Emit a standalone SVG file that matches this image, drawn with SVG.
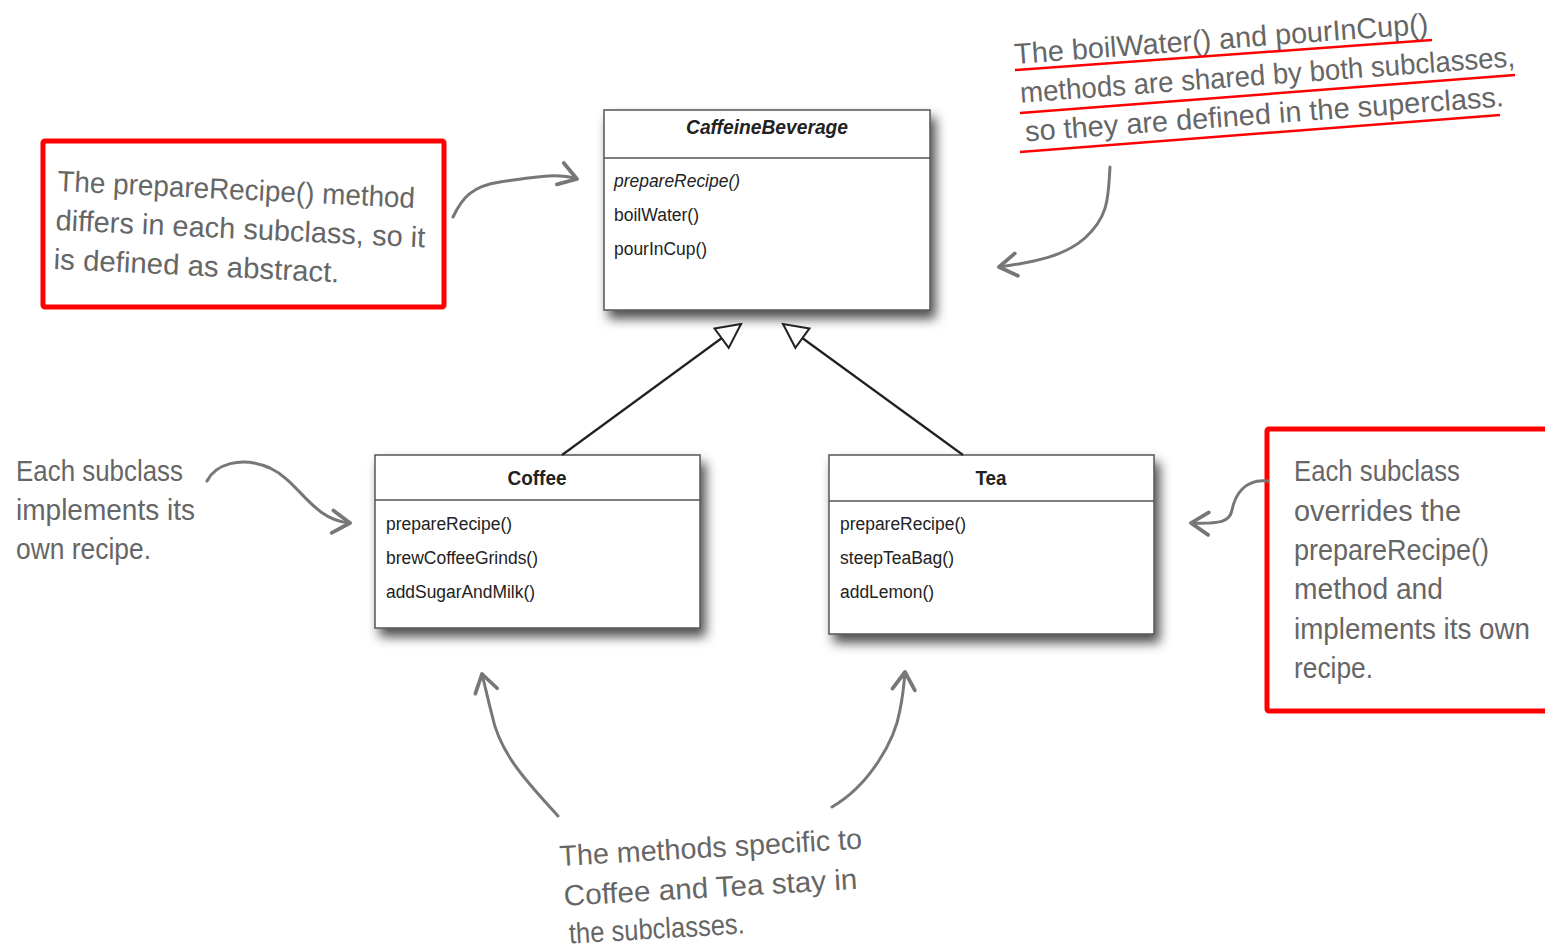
<svg xmlns="http://www.w3.org/2000/svg" width="1545" height="948" viewBox="0 0 1545 948">
  <defs>
    <filter id="shadow" x="-10%" y="-10%" width="125%" height="135%">
      <feDropShadow dx="5" dy="8" stdDeviation="6" flood-color="#000" flood-opacity="0.7"/>
    </filter>
    <marker id="hollow" markerWidth="30" markerHeight="30" refX="0" refY="0" orient="auto" markerUnits="userSpaceOnUse" viewBox="-26 -14 30 28">
      <path d="M0,0 L-24,-12 L-24,12 Z" fill="#fff" stroke="#222" stroke-width="2" stroke-linejoin="miter"/>
    </marker>
    <marker id="open" markerWidth="30" markerHeight="30" refX="0" refY="0" orient="auto" markerUnits="userSpaceOnUse" viewBox="-18 -12 22 24">
      <path d="M-14,-9 L0,0 L-14,9" fill="none" stroke="#777" stroke-width="3" stroke-linecap="round" stroke-linejoin="round"/>
    </marker>
  </defs>
  <style>
    .box { fill: #fff; stroke: #555; stroke-width: 1.5; }
    .div { stroke: #555; stroke-width: 1.5; }
    .title { font-family: "Liberation Sans", Arial, sans-serif; font-weight: bold; font-size: 20px; fill: #222; text-anchor: middle; }
    .meth { font-family: "Liberation Sans", Arial, sans-serif; font-size: 18px; fill: #222; }
    .note { font-family: "Liberation Sans", Arial, sans-serif; font-size: 29px; fill: #666; }
    .redbox { fill: #fff; stroke: #ff0000; stroke-width: 5; }
    .uline { stroke: #ff0000; stroke-width: 2.5; fill: none; }
    .inherit { stroke: #222; stroke-width: 2.2; fill: none; }
    .hand { stroke: #777; stroke-width: 3; fill: none; stroke-linecap: round; }
  </style>

  <rect width="1545" height="948" fill="#fff"/>

  <!-- abstract superclass -->
  <g id="caffeine-beverage">
    <rect class="box" x="604" y="110" width="326" height="200" filter="url(#shadow)"/>
    <line class="div" x1="604" y1="158" x2="930" y2="158"/>
    <text class="title" x="767" y="134" font-style="italic" textLength="162" lengthAdjust="spacingAndGlyphs">CaffeineBeverage</text>
    <text class="meth" x="614" y="187" font-style="italic" textLength="126" lengthAdjust="spacingAndGlyphs">prepareRecipe()</text>
    <text class="meth" x="614" y="221" textLength="85" lengthAdjust="spacingAndGlyphs">boilWater()</text>
    <text class="meth" x="614" y="255" textLength="93" lengthAdjust="spacingAndGlyphs">pourInCup()</text>
  </g>

  <!-- subclass Coffee -->
  <g id="coffee">
    <rect class="box" x="375" y="455" width="325" height="173" filter="url(#shadow)"/>
    <line class="div" x1="375" y1="500" x2="700" y2="500"/>
    <text class="title" x="537" y="485" textLength="59" lengthAdjust="spacingAndGlyphs">Coffee</text>
    <text class="meth" x="386" y="530" textLength="126" lengthAdjust="spacingAndGlyphs">prepareRecipe()</text>
    <text class="meth" x="386" y="564" textLength="152" lengthAdjust="spacingAndGlyphs">brewCoffeeGrinds()</text>
    <text class="meth" x="386" y="598" textLength="149" lengthAdjust="spacingAndGlyphs">addSugarAndMilk()</text>
  </g>

  <!-- subclass Tea -->
  <g id="tea">
    <rect class="box" x="829" y="455" width="325" height="179" filter="url(#shadow)"/>
    <line class="div" x1="829" y1="501" x2="1154" y2="501"/>
    <text class="title" x="991" y="485" textLength="31" lengthAdjust="spacingAndGlyphs">Tea</text>
    <text class="meth" x="840" y="530" textLength="126" lengthAdjust="spacingAndGlyphs">prepareRecipe()</text>
    <text class="meth" x="840" y="564" textLength="114" lengthAdjust="spacingAndGlyphs">steepTeaBag()</text>
    <text class="meth" x="840" y="598" textLength="94" lengthAdjust="spacingAndGlyphs">addLemon()</text>
  </g>

  <!-- note: abstract method -->
  <g id="note-abstract">
    <rect class="redbox" x="43" y="141" width="401" height="166" rx="2"/>
    <g transform="rotate(2.7 57 191)">
      <text class="note" x="57" y="191" textLength="358" lengthAdjust="spacingAndGlyphs">The prepareRecipe() method</text>
      <text class="note" x="57" y="230" textLength="370" lengthAdjust="spacingAndGlyphs">differs in each subclass, so it</text>
      <text class="note" x="57" y="269" textLength="286" lengthAdjust="spacingAndGlyphs">is defined as abstract.</text>
    </g>
  </g>

  <!-- note: shared methods -->
  <g id="note-shared">
    <g transform="rotate(-4.2 1015 64)">
      <text class="note" x="1015" y="64" textLength="415" lengthAdjust="spacingAndGlyphs">The boilWater() and pourInCup()</text>
      <text class="note" x="1018" y="103" textLength="496" lengthAdjust="spacingAndGlyphs">methods are shared by both subclasses,</text>
      <text class="note" x="1020" y="142" textLength="480" lengthAdjust="spacingAndGlyphs">so they are defined in the superclass.</text>
    </g>
    <line class="uline" x1="1015" y1="70" x2="1432" y2="40"/>
    <line class="uline" x1="1020" y1="113" x2="1515" y2="75"/>
    <line class="uline" x1="1020" y1="152" x2="1500" y2="115"/>
  </g>

  <!-- note: subclasses implement recipe -->
  <g id="note-implements">
    <text class="note" x="16" y="481" textLength="167" lengthAdjust="spacingAndGlyphs">Each subclass</text>
    <text class="note" x="16" y="520" textLength="179" lengthAdjust="spacingAndGlyphs">implements its</text>
    <text class="note" x="16" y="559" textLength="135" lengthAdjust="spacingAndGlyphs">own recipe.</text>
  </g>

  <!-- note: override -->
  <g id="note-override">
    <rect class="redbox" x="1267" y="429" width="290" height="282" rx="2"/>
    <text class="note" x="1294" y="481" textLength="166" lengthAdjust="spacingAndGlyphs">Each subclass</text>
    <text class="note" x="1294" y="521" textLength="167" lengthAdjust="spacingAndGlyphs">overrides the</text>
    <text class="note" x="1294" y="560" textLength="195" lengthAdjust="spacingAndGlyphs">prepareRecipe()</text>
    <text class="note" x="1294" y="599" textLength="149" lengthAdjust="spacingAndGlyphs">method and</text>
    <text class="note" x="1294" y="639" textLength="236" lengthAdjust="spacingAndGlyphs">implements its own</text>
    <text class="note" x="1294" y="678" textLength="79" lengthAdjust="spacingAndGlyphs">recipe.</text>
  </g>

  <!-- note: specific methods -->
  <g id="note-specific">
    <g transform="rotate(-3.3 560 866)">
      <text class="note" x="560" y="866" textLength="303" lengthAdjust="spacingAndGlyphs">The methods specific to</text>
      <text class="note" x="562" y="906" textLength="294" lengthAdjust="spacingAndGlyphs">Coffee and Tea stay in</text>
      <text class="note" x="565" y="944" textLength="176" lengthAdjust="spacingAndGlyphs">the subclasses.</text>
    </g>
  </g>

  <!-- connectors -->
  <g id="connectors">
    <line class="inherit" x1="562" y1="455" x2="741" y2="324" marker-end="url(#hollow)"/>
    <line class="inherit" x1="963" y1="455" x2="783" y2="324" marker-end="url(#hollow)"/>

    <path class="hand" d="M453,217 C462,198 472,186 500,182 C530,178 555,172 577,179" marker-end="url(#open)"/>
    <path class="hand" d="M1110,167 C1108,195 1110,215 1085,238 C1065,256 1035,262 999,267" marker-end="url(#open)"/>
    <path class="hand" d="M207,481 C215,465 240,455 270,468 C300,482 312,520 350,523" marker-end="url(#open)"/>
    <path class="hand" d="M1268,481 C1245,478 1235,495 1232,510 C1230,522 1220,524 1191,523" marker-end="url(#open)"/>
    <path class="hand" d="M558,816 C530,785 500,755 492,715 C488,700 486,690 482,674" marker-end="url(#open)"/>
    <path class="hand" d="M832,807 C870,785 895,740 900,710 C903,695 904,685 905,672" marker-end="url(#open)"/>
  </g>
</svg>
